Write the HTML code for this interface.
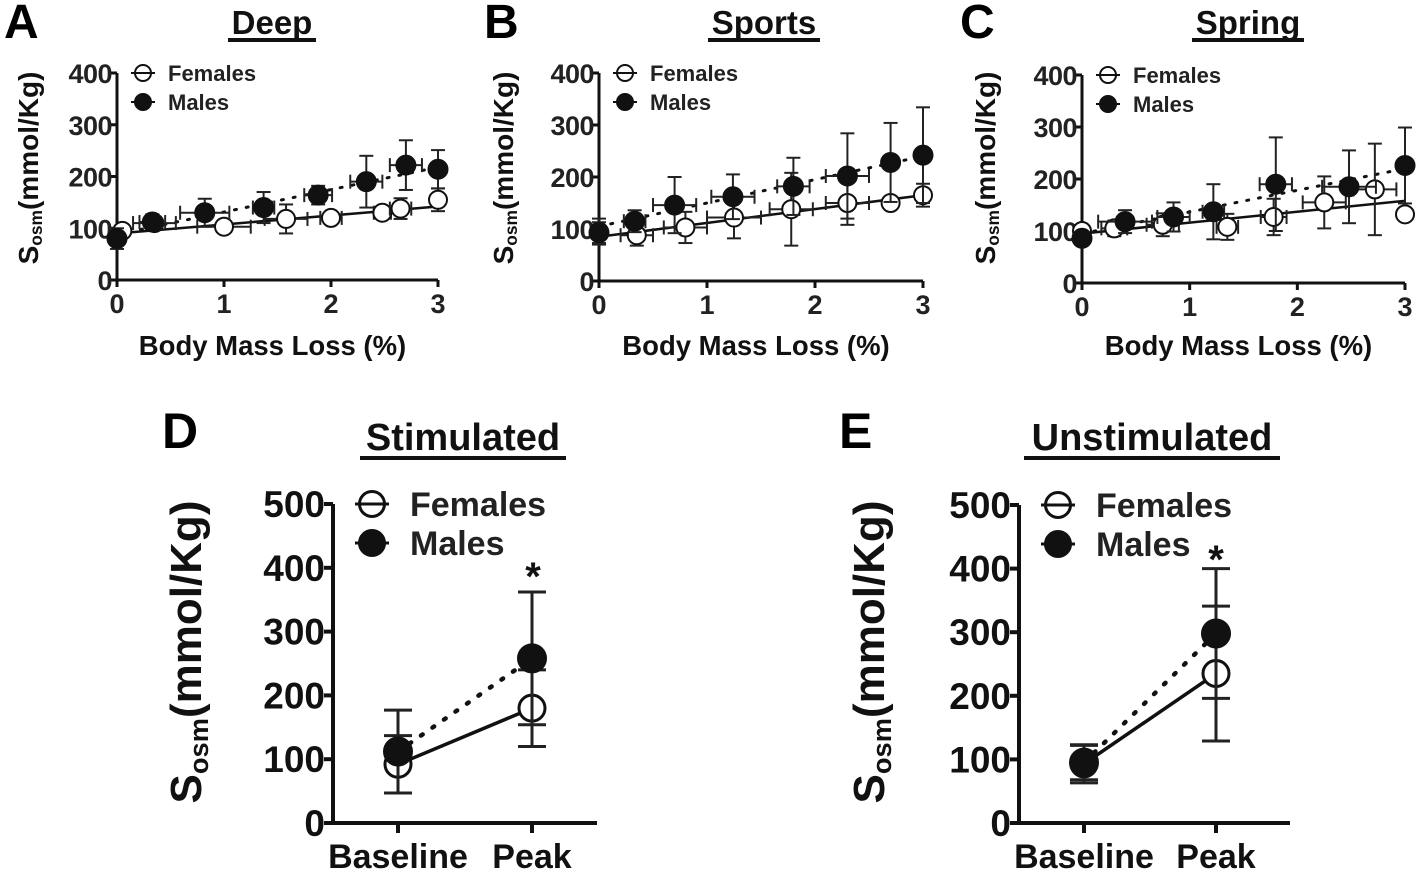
<!DOCTYPE html>
<html><head><meta charset="utf-8"><style>
html,body{margin:0;padding:0;background:#fff;}
svg{display:block;font-family:"Liberation Sans",Arial,sans-serif;font-weight:bold;}
</style></head><body>
<svg id="fig" width="1418" height="872" viewBox="0 0 1418 872" xmlns="http://www.w3.org/2000/svg"></svg>
<script>
// ---------- Panel A (Deep) ----------
const aMaleX=[0,0.33,0.82,1.37,1.88,2.33,2.7,3.0];
const aMaleY=[80,112,130,140,164,190,222,214];
const aMaleYErr=[20,15,27,30,18,50,48,37];
const aMaleXErr=[0.03,0.12,0.23,0.1,0.13,0.15,0.15,0.03];
const aFemX=[0.05,0.35,1.0,1.58,2.0,2.48,2.65,3.0];
const aFemY=[95,110,103,118,120,130,138,155];
const aFemYErr=[8,12,6,28,8,12,20,22];
const aFemXErr=[0.05,0.2,0.25,0.2,0.1,0.08,0.1,0.03];
const aFemLine=[90,142];
const aMaleLine=[88,218];
// ---------- Panel B (Sports) ----------
const bMaleX=[0,0.33,0.7,1.24,1.8,2.3,2.7,3.0];
const bMaleY=[93,115,146,162,182,202,228,242];
const bMaleYErr=[20,21,54,43,55,82,76,92];
const bMaleXErr=[0.03,0.1,0.2,0.2,0.15,0.2,0.05,0.03];
const bFemX=[0,0.35,0.8,1.25,1.78,2.3,2.7,3.0];
const bFemY=[95,88,103,122,138,150,150,165];
const bFemYErr=[25,20,30,40,70,42,8,22];
const bFemXErr=[0.05,0.15,0.2,0.25,0.2,0.2,0.05,0.03];
const bFemLine=[85,165];
const bMaleLine=[105,240];
// ---------- Panel C (Spring) ----------
const cMaleX=[0,0.4,0.85,1.22,1.8,2.48,3.0];
const cMaleY=[86,118,127,137,190,185,226];
const cMaleYErr=[10,22,28,53,90,70,73];
const cMaleXErr=[0.03,0.25,0.15,0.1,0.15,0.25,0.03];
const cFemX=[0,0.3,0.75,1.35,1.78,2.25,2.72,3.0];
const cFemY=[100,105,112,108,127,155,180,132];
const cFemYErr=[10,15,22,25,35,50,88,5];
const cFemXErr=[0.03,0.12,0.15,0.1,0.12,0.2,0.2,0.03];
const cFemLine=[95,158];
const cMaleLine=[95,220];
// ---------- Panel D (Stimulated) ----------
const dCats=["Baseline","Peak"];
const dFemY=[92,180];
const dFemErr=[45,60];
const dMaleY=[112,258];
const dMaleErr=[65,104];
// ---------- Panel E (Unstimulated) ----------
const eCats=["Baseline","Peak"];
const eFemY=[93,235];
const eFemErr=[30,106];
const eMaleY=[95,298];
const eMaleErr=[27,102];
const smallTicks=["0","100","200","300","400"];
const smallTickVals=[0,100,200,300,400];
const xTicks=["0","1","2","3"];
const xTickVals=[0,1,2,3];
const bigTicks=["0","100","200","300","400","500"];
const bigTickVals=[0,100,200,300,400,500];

const NS="http://www.w3.org/2000/svg";
const svg=document.getElementById('fig');
function mk(tag,attrs,parent,text){
  const e=document.createElementNS(NS,tag);
  for(const k in attrs)e.setAttribute(k,attrs[k]);
  if(text!==undefined)e.textContent=text;
  (parent||svg).appendChild(e);return e;
}
function group(name,parent){
  const g=mk('g',{},parent);
  
  
  return g;
}
function ylabel(g,x,y,fs){
  const t=mk('text',{x:x,y:y,'font-size':fs,'text-anchor':'middle',transform:`rotate(-90 ${x} ${y})`,fill:'#111'},g);
  
  
  mk('tspan',{},t,'S');
  mk('tspan',{'baseline-shift':'-25%','font-size':fs*0.62},t,'osm');
  mk('tspan',{},t,'(mmol/Kg)');
}
function title(g,txt,cx,y,fs,ulY,ulW){
  const t=mk('text',{x:cx,y:y,'font-size':fs,'text-anchor':'middle',fill:'#111'},g,txt);
  
  
  const l=mk('line',{x1:cx-ulW/2,x2:cx+ulW/2,y1:ulY,y2:ulY,stroke:'#111','stroke-width':4},g);
  
  
}
function letter(g,txt,x,y,fs){
  const t=mk('text',{x:x,y:y,'font-size':fs,fill:'#000'},g,txt);
  
  
}
function marker(g,x,y,r,filled,name,sw){
  const c=mk('circle',{cx:x,cy:y,r:r,fill:filled?'#111':'#fff',stroke:'#111','stroke-width':sw},g);
  
  
}
function legend(g,x,y1,y2,tx,fs,r,sw,lw){
  const lf=group('legend-entry-females',g);
  marker(lf,x,y1,r,false,'legend-marker-females',sw);
  mk('line',{x1:x-lw,x2:x+lw,y1:y1,y2:y1,stroke:'#111','stroke-width':sw},lf);
  mk('text',{x:tx,y:y1+fs*0.36,'font-size':fs,fill:'#222'},lf,'Females');
  const lm=group('legend-entry-males',g);
  mk('line',{x1:x-lw,x2:x+lw,y1:y2,y2:y2,stroke:'#111','stroke-width':sw},lm);
  marker(lm,x,y2,r,true,'legend-marker-males',sw);
  mk('text',{x:tx,y:y2+fs*0.36,'font-size':fs,fill:'#222'},lm,'Males');
}
function errY(g,x,y1,y2,cap,sw){
  mk('line',{x1:x,x2:x,y1:y1,y2:y2,stroke:'#222','stroke-width':sw},g);
  mk('line',{x1:x-cap,x2:x+cap,y1:y1,y2:y1,stroke:'#222','stroke-width':sw},g);
  mk('line',{x1:x-cap,x2:x+cap,y1:y2,y2:y2,stroke:'#222','stroke-width':sw},g);
}
function errX(g,y,x1,x2,cap,sw){
  mk('line',{x1:x1,x2:x2,y1:y,y2:y,stroke:'#222','stroke-width':sw},g);
  mk('line',{x1:x1,x2:x1,y1:y-cap,y2:y+cap,stroke:'#222','stroke-width':sw},g);
  mk('line',{x1:x2,x2:x2,y1:y-cap,y2:y+cap,stroke:'#222','stroke-width':sw},g);
}

function scatterPanel(p){
  const g=group('panel-'+p.key);
  const sx=v=>p.x0+(p.x3-p.x0)*v/3;
  const sy=v=>p.y0-(p.y0-p.y400)*v/400;
  letter(g,p.letter,p.lx,38,48);
  title(g,p.title,p.tcx,34,33,40,p.tw);
  ylabel(g,p.ylx,168,28);
  const ax=group('axes',g);
  mk('line',{x1:p.x0,x2:p.x0,y1:p.y400,y2:p.y0+1.5,stroke:'#111','stroke-width':3},ax);
  mk('line',{x1:p.x0-1.5,x2:sx(3),y1:p.y0,y2:p.y0,stroke:'#111','stroke-width':3},ax);
  smallTickVals.forEach((v,i)=>{
    mk('line',{x1:p.x0-6,x2:p.x0,y1:sy(v),y2:sy(v),stroke:'#111','stroke-width':3},ax);
    const t=mk('text',{x:p.x0-5,y:sy(v)+10,'font-size':27,'text-anchor':'end',fill:'#222','letter-spacing':-0.5},ax,smallTicks[i]);
    
    
  });
  xTickVals.forEach((v,i)=>{
    mk('line',{x1:sx(v),x2:sx(v),y1:p.y0,y2:p.y0+7,stroke:'#111','stroke-width':3},ax);
    const t=mk('text',{x:sx(v),y:p.y0+33,'font-size':27,'text-anchor':'middle',fill:'#222'},ax,xTicks[i]);
    
    
  });
  const xt=mk('text',{x:(p.x0+p.x3)/2-5,y:355,'font-size':27.5,'text-anchor':'middle',fill:'#111'},g,'Body Mass Loss (%)');
  
  
  const fl=mk('line',{x1:sx(0),y1:sy(p.fLine[0]),x2:sx(3),y2:sy(p.fLine[1]),stroke:'#111','stroke-width':2.5},g);
  
  
  const ml=mk('line',{x1:sx(0),y1:sy(p.mLine[0]),x2:sx(3),y2:sy(p.mLine[1]),stroke:'#111','stroke-width':3,'stroke-dasharray':'2 10','stroke-linecap':'round'},g);
  
  
  const fg=group('females-series',g);
  p.fx.forEach((x,i)=>{
    errY(fg,sx(x),sy(p.fy[i]+p.fye[i]),sy(p.fy[i]-p.fye[i]),7,2);
    errX(fg,sy(p.fy[i]),sx(x-p.fxe[i]),sx(x+p.fxe[i]),7,2);
    marker(fg,sx(x),sy(p.fy[i]),9,false,'female-point',2);
  });
  const mg=group('males-series',g);
  p.mx.forEach((x,i)=>{
    errY(mg,sx(x),sy(p.my[i]+p.mye[i]),sy(p.my[i]-p.mye[i]),7,2);
    errX(mg,sy(p.my[i]),sx(x-p.mxe[i]),sx(x+p.mxe[i]),7,2);
    marker(mg,sx(x),sy(p.my[i]),9.5,true,'male-point',2);
  });
  legend(g,p.x0+26,p.y400,p.y400+29,p.x0+51,22,8,2,12);
}

scatterPanel({key:'a-deep',letter:'A',lx:4,title:'Deep',tcx:272,tw:88,ylx:38,x0:117,x3:438,y0:280,y400:73,
  fx:aFemX,fy:aFemY,fye:aFemYErr,fxe:aFemXErr,mx:aMaleX,my:aMaleY,mye:aMaleYErr,mxe:aMaleXErr,fLine:aFemLine,mLine:aMaleLine});
scatterPanel({key:'b-sports',letter:'B',lx:484,title:'Sports',tcx:764,tw:112,ylx:513,x0:599,x3:923,y0:281,y400:73,
  fx:bFemX,fy:bFemY,fye:bFemYErr,fxe:bFemXErr,mx:bMaleX,my:bMaleY,mye:bMaleYErr,mxe:bMaleXErr,fLine:bFemLine,mLine:bMaleLine});
scatterPanel({key:'c-spring',letter:'C',lx:960,title:'Spring',tcx:1248,tw:112,ylx:995,x0:1082,x3:1405,y0:283,y400:75,
  fx:cFemX,fy:cFemY,fye:cFemYErr,fxe:cFemXErr,mx:cMaleX,my:cMaleY,mye:cMaleYErr,mxe:cMaleXErr,fLine:cFemLine,mLine:cMaleLine});

function catPanel(p){
  const g=group('panel-'+p.key);
  const sy=v=>p.y0-(p.y0-p.y500)*v/500;
  const sx=i=>p.cx[i];
  letter(g,p.letter,p.lx,448,50);
  title(g,p.title,p.tcx,450,38,458,p.tw);
  ylabel(g,p.ylx,652,44);
  const ax=group('axes',g);
  mk('line',{x1:p.x0,x2:p.x0,y1:p.y500,y2:p.y0+2,stroke:'#111','stroke-width':4},ax);
  mk('line',{x1:p.x0-2,x2:p.xEnd,y1:p.y0,y2:p.y0,stroke:'#111','stroke-width':4},ax);
  bigTickVals.forEach((v,i)=>{
    mk('line',{x1:p.x0-9,x2:p.x0,y1:sy(v),y2:sy(v),stroke:'#111','stroke-width':4},ax);
    const t=mk('text',{x:p.x0-8,y:sy(v)+13,'font-size':37,'text-anchor':'end',fill:'#111'},ax,bigTicks[i]);
    
    
  });
  p.cats.forEach((c,i)=>{
    mk('line',{x1:sx(i),x2:sx(i),y1:p.y0,y2:p.y0+10,stroke:'#111','stroke-width':4},ax);
    const t=mk('text',{x:sx(i),y:868,'font-size':34,'text-anchor':'middle',fill:'#111'},ax,c);
    
    
  });
  const fl=mk('line',{x1:sx(0),y1:sy(p.fy[0]),x2:sx(1),y2:sy(p.fy[1]),stroke:'#111','stroke-width':3.5},g);
  
  
  const ml=mk('line',{x1:sx(0),y1:sy(p.my[0]),x2:sx(1),y2:sy(p.my[1]),stroke:'#111','stroke-width':4.5,'stroke-dasharray':'2 12','stroke-linecap':'round'},g);
  
  
  const fg=group('females-series',g);
  p.fy.forEach((v,i)=>{
    errY(fg,sx(i),sy(v+p.fe[i]),sy(v-p.fe[i]),14,3);
    marker(fg,sx(i),sy(v),13,false,'female-point',3);
  });
  const mg=group('males-series',g);
  p.my.forEach((v,i)=>{
    errY(mg,sx(i),sy(v+p.me[i]),sy(v-p.me[i]),14,3);
    marker(mg,sx(i),sy(v),13.5,true,'male-point',3);
  });
  legend(g,p.x0+39,p.y500,p.y500+39,p.x0+77,34,12.5,3,17);
  const st=mk('text',{x:p.astX,y:p.astY,'font-size':40,'text-anchor':'middle',fill:'#111'},g,'*');
  
  
}
catPanel({key:'d-stimulated',letter:'D',lx:162,title:'Stimulated',tcx:463,tw:206,ylx:201,x0:333,xEnd:597,y0:823,y500:504,cx:[398,532],
  cats:dCats,fy:dFemY,fe:dFemErr,my:dMaleY,me:dMaleErr,astX:533,astY:590});
catPanel({key:'e-unstimulated',letter:'E',lx:839,title:'Unstimulated',tcx:1152,tw:256,ylx:884,x0:1019,xEnd:1290,y0:823,y500:505,cx:[1084,1216],
  cats:eCats,fy:eFemY,fe:eFemErr,my:eMaleY,me:eMaleErr,astX:1216,astY:573});
</script>
</body></html>
